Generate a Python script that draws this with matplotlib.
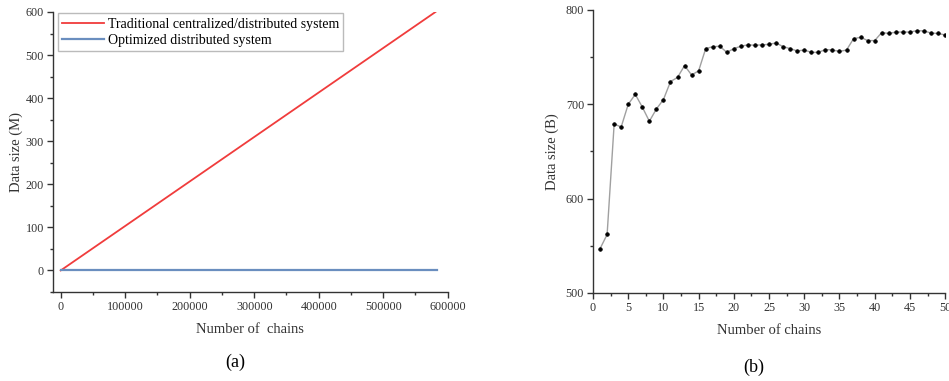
import matplotlib.pyplot as plt
from matplotlib.ticker import MultipleLocator

plt.rcParams['font.family'] = ['Liberation Serif', 'DejaVu Serif']

# ── panel (a): data size vs number of chains (linear growth) ──
chains_a = [0, 581000]
traditional_mb = [0, 600]
optimized_x = [0, 584000]
optimized_mb = [0, 0]

# ── panel (b): data size per chain count ──
chains_b = list(range(1, 51))
size_b = [547, 562, 679, 676, 700, 710.5, 697, 682, 695, 705,
          724, 728.5, 741, 731, 735.5, 759, 761, 761.5, 755, 759,
          761.5, 763, 762.5, 763, 763.5, 765, 761, 759, 756.5, 757.5,
          755, 755, 758, 757.5, 756, 757.5, 769.5, 771, 767.5, 767.5,
          776, 775, 776.5, 776.5, 776.5, 778, 777.7, 775.5, 775, 773.5]

fig = plt.figure(figsize=(9.49, 3.81), dpi=100)


def style_axes(ax):
    for s in ("top", "right"):
        ax.spines[s].set_visible(False)
    for s in ("left", "bottom"):
        ax.spines[s].set_color("#333333")
        ax.spines[s].set_linewidth(1.0)
    ax.tick_params(which="major", direction="out", length=4, width=1,
                   labelsize=8.7, colors="#333333", pad=2.5)
    ax.tick_params(which="minor", direction="out", length=2.5, width=1,
                   colors="#333333")


# (a)
ax1 = fig.add_axes([0.0558, 0.2336, 0.416, 0.735])
ax1.plot(chains_a, traditional_mb, color="#f03c3c", lw=1.3,
         label="Traditional centralized/distributed system")
ax1.plot(optimized_x, optimized_mb, color="#6a8ebf", lw=1.6,
         label="Optimized distributed system")
ax1.set_xlim(-12000, 600000)
ax1.set_ylim(-50, 600)
ax1.xaxis.set_major_locator(MultipleLocator(100000))
ax1.xaxis.set_minor_locator(MultipleLocator(50000))
ax1.yaxis.set_major_locator(MultipleLocator(100))
ax1.yaxis.set_minor_locator(MultipleLocator(50))
style_axes(ax1)
ax1.set_xlabel("Number of  chains", fontsize=10.5, color="#333333", labelpad=7)
ax1.set_ylabel("Data size (M)", fontsize=10.5, color="#333333", labelpad=2)
leg = ax1.legend(loc="upper left", bbox_to_anchor=(0.005, 1.005), fontsize=10,
                 frameon=True, fancybox=False, borderpad=0.3,
                 handlelength=3.0, handletextpad=0.3, labelspacing=0.25,
                 borderaxespad=0.2)
leg.get_frame().set_edgecolor("#aaaaaa")
leg.get_frame().set_linewidth(1.0)
fig.text(0.248, 0.05, "(a)", fontsize=13, ha="center", va="center")

# (b)
ax2 = fig.add_axes([0.6249, 0.231, 0.371, 0.743])
ax2.plot(chains_b, size_b, color="#a0a0a0", lw=1.0, marker="o",
         markersize=2.6, markeredgewidth=0.5,
         markerfacecolor="black", markeredgecolor="black")
ax2.set_xlim(0, 50)
ax2.set_ylim(500, 800)
ax2.xaxis.set_major_locator(MultipleLocator(5))
ax2.xaxis.set_minor_locator(MultipleLocator(2.5))
ax2.yaxis.set_major_locator(MultipleLocator(100))
ax2.yaxis.set_minor_locator(MultipleLocator(50))
style_axes(ax2)
ax2.set_xlabel("Number of chains", fontsize=10.5, color="#333333", labelpad=7)
ax2.set_ylabel("Data size (B)", fontsize=10.5, color="#333333", labelpad=5)
fig.text(0.794, 0.037, "(b)", fontsize=13, ha="center", va="center")

fig.savefig("out.png", dpi=100)
